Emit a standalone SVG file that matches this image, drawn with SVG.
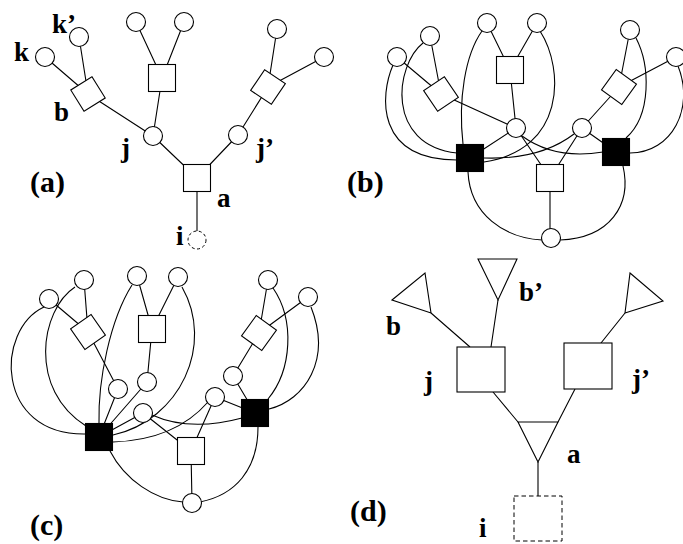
<svg xmlns="http://www.w3.org/2000/svg" width="683" height="544" viewBox="0 0 683 544">
<style>
.e{fill:none;stroke:#000;stroke-width:1.1}
.n{fill:#fff;stroke:#000;stroke-width:1.1}
.b{fill:#000;stroke:#000;stroke-width:1.1}
.d{fill:#fff;stroke:#000;stroke-width:1;stroke-dasharray:3,2.5}
.ds{fill:none;stroke:#000;stroke-width:1;stroke-dasharray:4.5,3}
.t{font-family:"Liberation Serif","Times New Roman",serif;font-weight:bold;font-size:27px;fill:#000}
.p{font-family:"Liberation Serif","Times New Roman",serif;font-weight:bold;font-size:30px;fill:#000}
</style>
<defs>
<circle id="c" r="9.5" class="n"/>
<rect id="s" x="-13.5" y="-13.5" width="27" height="27" class="n"/>
<rect id="bs" x="-13.5" y="-13.5" width="27" height="27" class="b"/>
<rect id="dm" x="-12.5" y="-12.5" width="25" height="25" class="n"/>
</defs>
<g id="connectors">
<!-- (a) -->
<path class="e" d="M45,57 L88,94 M79,37 L88,94 M88,94 L153,136 M136,22 L162,78 M184,22 L162,78 M162,78 L153,136 M153,136 L197,178 M238,135 L197,178 M268,87 L238,135 M277,29 L268,87 M324,57 L268,87 M197,178 L197,231"/>
<!-- (b) tree -->
<path class="e" d="M397,57 L441,94 M430,36 L441,94 M441,94 L516,128 M487,23 L510,70 M537,23 L510,70 M510,70 L516,128 M516,128 L550,178 M582,128 L550,178 M619,87 L582,128 M630,30 L619,87 M676,57 L619,87 M550,178 L550,238 M470,158 L516,128 M616,152 L582,128"/>
<!-- (b) curves -->
<path class="e" d="M393,65 C380,95 375,160 457,160"/>
<path class="e" d="M423,43 C395,65 385,145 457,153"/>
<path class="e" d="M463,144 C458,100 465,55 482,31"/>
<path class="e" d="M540,31 C565,70 565,150 484,162"/>
<path class="e" d="M484,158 Q540,160 574,134"/>
<path class="e" d="M522,136 Q555,160 603,152"/>
<path class="e" d="M636,38 C650,65 652,115 626,138"/>
<path class="e" d="M630,153 C672,153 695,108 678,66"/>
<path class="e" d="M623,166 C632,205 610,238 560,240"/>
<path class="e" d="M468,172 C470,215 505,238 542,240"/>
<!-- (c) tree -->
<path class="e" d="M49,299 L88,332 M84,280 L88,332 M88,332 L118,389 M137,276 L152,329 M178,277 L152,329 M152,329 L147,382 M143,413 L191,451 M215,397 L191,451 M259,333 L233,376 M268,280 L259,333 M308,297 L259,333 M191,451 L192,503 M99,437 L118,389 M99,437 L147,382 M99,437 L143,413 M255,413 L233,376 M255,413 L215,397"/>
<!-- (c) curves -->
<path class="e" d="M44,307 C-5,330 -5,435 85,434"/>
<path class="e" d="M75,287 C40,310 28,390 86,426"/>
<path class="e" d="M132,285 C110,320 98,380 99,423"/>
<path class="e" d="M113,435 C180,420 215,345 182,287"/>
<path class="e" d="M113,442 Q175,440 208,402"/>
<path class="e" d="M152,415 Q190,432 242,418"/>
<path class="e" d="M268,399 C292,370 295,320 273,288"/>
<path class="e" d="M269,409 C305,400 332,360 311,307"/>
<path class="e" d="M258,427 C258,470 235,495 200,502"/>
<path class="e" d="M110,451 C125,480 155,500 183,502"/>
<!-- (d) -->
<path class="e" d="M431,313 L470,347 M498,300 L491,347 M625,313 L601,343 M493,392 L518,422 M575,389 L558,422 M538,462 L538,496"/>
</g>
<g id="panel-a">
<g id="a-k"><use href="#c" x="45" y="57"/></g>
<g id="a-k2"><use href="#c" x="79" y="37"/></g>
<g id="a-t1"><use href="#c" x="136" y="22"/></g>
<g id="a-t2"><use href="#c" x="184" y="22"/></g>
<g id="a-r1"><use href="#c" x="277" y="29"/></g>
<g id="a-r2"><use href="#c" x="324" y="57"/></g>
<g id="a-b"><use href="#dm" transform="translate(88,94) rotate(-32)"/></g>
<g id="a-m"><use href="#s" x="162" y="78"/></g>
<g id="a-r"><use href="#dm" transform="translate(268,87) rotate(34)"/></g>
<g id="a-j"><use href="#c" x="153" y="136"/></g>
<g id="a-j2"><use href="#c" x="238" y="135"/></g>
<g id="a-a"><use href="#s" x="197" y="178"/></g>
<g id="a-i"><circle cx="197" cy="240" r="9" class="d"/></g>
<text class="t" x="14" y="61">k</text>
<text class="t" x="52" y="33">k’</text>
<text class="t" x="54" y="121">b</text>
<text class="t" x="121" y="157">j</text>
<text class="t" x="256" y="157">j’</text>
<text class="t" x="217" y="207">a</text>
<text class="t" x="176" y="245">i</text>
<text class="p" x="30" y="192">(a)</text>
</g>
<g id="panel-b">
<g id="b-c1"><use href="#c" x="397" y="57"/></g>
<g id="b-c2"><use href="#c" x="430" y="36"/></g>
<g id="b-c3"><use href="#c" x="487" y="23"/></g>
<g id="b-c4"><use href="#c" x="537" y="23"/></g>
<g id="b-c5"><use href="#c" x="630" y="30"/></g>
<g id="b-c6"><use href="#c" x="676" y="57"/></g>
<g id="b-dl"><use href="#dm" transform="translate(441,94) rotate(-34)"/></g>
<g id="b-m"><use href="#s" x="510" y="70"/></g>
<g id="b-dr"><use href="#dm" transform="translate(619,87) rotate(36)"/></g>
<g id="b-j"><use href="#c" x="516" y="128"/></g>
<g id="b-j2"><use href="#c" x="582" y="128"/></g>
<g id="b-bl"><use href="#bs" x="470" y="158"/></g>
<g id="b-br"><use href="#bs" x="616" y="152"/></g>
<g id="b-a"><use href="#s" x="550" y="178"/></g>
<g id="b-i"><use href="#c" x="551" y="238"/></g>
<text class="p" x="347" y="192">(b)</text>
</g>
<g id="panel-c">
<g id="c-c1"><use href="#c" x="49" y="299"/></g>
<g id="c-c2"><use href="#c" x="84" y="280"/></g>
<g id="c-c3"><use href="#c" x="137" y="276"/></g>
<g id="c-c4"><use href="#c" x="178" y="277"/></g>
<g id="c-c5"><use href="#c" x="268" y="280"/></g>
<g id="c-c6"><use href="#c" x="308" y="297"/></g>
<g id="c-dl"><use href="#dm" transform="translate(88,332) rotate(-35)"/></g>
<g id="c-m"><use href="#s" x="152" y="329"/></g>
<g id="c-dr"><use href="#dm" transform="translate(259,333) rotate(36)"/></g>
<g id="c-m1"><use href="#c" x="118" y="389"/></g>
<g id="c-m2"><use href="#c" x="147" y="382"/></g>
<g id="c-m3"><use href="#c" x="143" y="413"/></g>
<g id="c-m4"><use href="#c" x="215" y="397"/></g>
<g id="c-m5"><use href="#c" x="233" y="376"/></g>
<g id="c-bl"><use href="#bs" x="99" y="437"/></g>
<g id="c-br"><use href="#bs" x="255" y="413"/></g>
<g id="c-a"><use href="#s" x="191" y="451"/></g>
<g id="c-i"><use href="#c" x="192" y="503"/></g>
<text class="p" x="30" y="535">(c)</text>
</g>
<g id="panel-d">
<g id="d-b"><polygon class="n" points="392,300 425,273 431,313"/></g>
<g id="d-b2"><polygon class="n" points="478,259 517,259 498,300"/></g>
<g id="d-r"><polygon class="n" points="630,273 663,301 625,313"/></g>
<g id="d-j"><rect class="n" x="457" y="347" width="48" height="45"/></g>
<g id="d-j2"><rect class="n" x="564" y="343" width="48" height="46"/></g>
<g id="d-a"><polygon class="n" points="518,422 558,422 538,462"/></g>
<g id="d-i"><rect class="ds" x="514" y="496" width="48" height="45"/></g>
<text class="t" x="386" y="335">b</text>
<text class="t" x="519" y="301">b’</text>
<text class="t" x="424" y="390">j</text>
<text class="t" x="632" y="388">j’</text>
<text class="t" x="567" y="463">a</text>
<text class="t" x="479" y="537">i</text>
<text class="p" x="350" y="521">(d)</text>
</g>
</svg>
